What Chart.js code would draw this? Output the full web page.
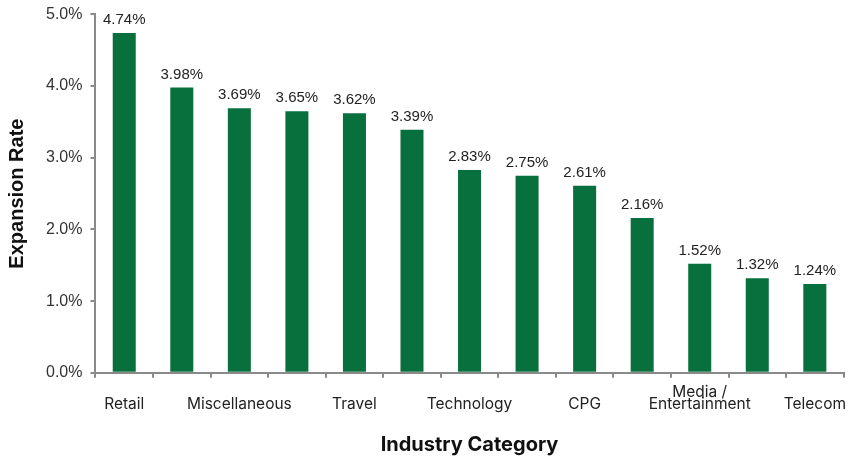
<!DOCTYPE html>
<html>
<head>
<meta charset="utf-8">
<script src="https://cdn.jsdelivr.net/npm/chart.js@4/dist/chart.umd.min.js"></script>
<style>
  html, body { margin: 0; padding: 0; background: #fff; }
  #wrap { width: 854px; height: 460px; position: relative; }
</style>
</head>
<body>
<div id="wrap"><canvas id="c" width="854" height="460"></canvas></div>
<script>
const categories = [
  ["", "Retail"], ["", "Financial Services"], ["", "Miscellaneous"], ["", "Healthcare"],
  ["", "Travel"], ["", "Education"], ["", "Technology"], ["", "Automotive"],
  ["", "CPG"], ["", "Energy"], ["Media /", "Entertainment"], ["", "Real Estate"], ["", "Telecom"]
];
const expansionRate = [4.74, 3.98, 3.69, 3.65, 3.62, 3.39, 2.83, 2.75, 2.61, 2.16, 1.52, 1.32, 1.24];
const yTicks = [0, 1, 2, 3, 4, 5];

const axisGrey = '#8a8a8a';
const green = '#07703C';

const valueLabels = {
  id: 'valueLabels',
  afterDatasetsDraw(chart) {
    const ctx = chart.ctx;
    const meta = chart.getDatasetMeta(0);
    ctx.save();
    ctx.font = '15px "Liberation Sans", Arial, sans-serif';
    ctx.fillStyle = '#222';
    ctx.textAlign = 'center';
    ctx.textBaseline = 'alphabetic';
    meta.data.forEach((bar, i) => {
      ctx.fillText(expansionRate[i].toFixed(2) + '%', bar.x, bar.y - 9);
    });
    ctx.restore();
  }
};

new Chart(document.getElementById('c'), {
  type: 'bar',
  data: {
    labels: categories,
    datasets: [{
      data: expansionRate,
      backgroundColor: green,
      barPercentage: 0.4,
      categoryPercentage: 1.0
    }]
  },
  options: {
    responsive: false,
    animation: false,
    layout: { padding: { top: 2, right: 0, left: 5, bottom: 3 } },
    plugins: { legend: { display: false }, tooltip: { enabled: false } },
    scales: {
      x: {
        grid: { display: true, drawOnChartArea: false, offset: true, tickLength: 5, color: axisGrey, lineWidth: 2 },
        border: { display: true, color: axisGrey, width: 2 },
        ticks: {
          autoSkip: false, maxRotation: 0, minRotation: 0, padding: 8,
          color: '#222',
          font: { family: 'Inter, Lato, sans-serif', size: 15.5, lineHeight: 0.78 },
          callback: function(v, i) { return i % 2 === 0 ? categories[i] : ''; }
        },
        title: {
          display: true, text: 'Industry Category', color: '#111',
          font: { family: 'Inter, Lato, sans-serif', size: 20, weight: 'bold' },
          padding: { top: 15, bottom: 0 }
        }
      },
      y: {
        min: 0, max: 5,
        afterBuildTicks(axis) { axis.ticks = yTicks.map(v => ({ value: v })); },
        grid: { display: true, drawOnChartArea: false, tickLength: 5, color: axisGrey, lineWidth: 2 },
        border: { display: true, color: axisGrey, width: 2 },
        ticks: {
          color: '#333', padding: 8,
          font: { family: '"Liberation Sans", Arial, sans-serif', size: 16, lineHeight: 0.8 },
          callback: v => v.toFixed(1) + '%'
        },
        title: {
          display: true, text: 'Expansion Rate', color: '#111',
          font: { family: '"Liberation Sans", Arial, sans-serif', size: 20, weight: 'bold' },
          padding: { top: 0, bottom: 9 }
        }
      }
    }
  },
  plugins: [valueLabels]
});
</script>
</body>
</html>
